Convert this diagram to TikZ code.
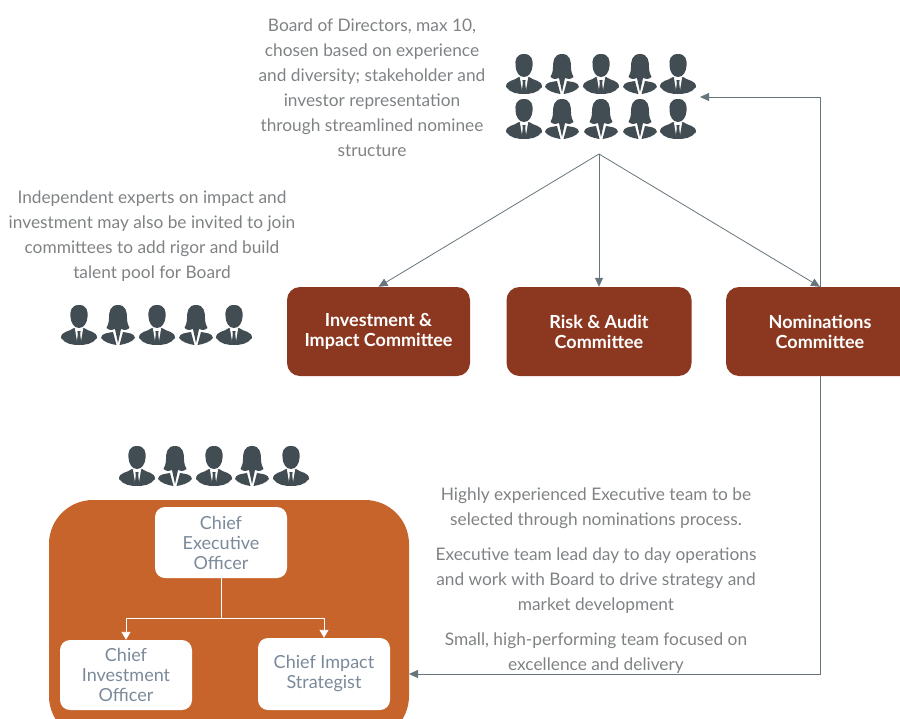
\documentclass[tikz,border=0pt]{standalone}
\usepackage{fontspec}
\setmainfont{Lato}
\usetikzlibrary{arrows.meta}
\definecolor{darkp}{HTML}{414D52}
\definecolor{brick}{HTML}{8C3820}
\definecolor{rust}{HTML}{C6642C}
\definecolor{txtg}{HTML}{7F8284}
\definecolor{txtb}{HTML}{7B8A9A}
\definecolor{linec}{HTML}{66757C}
\tikzset{
  x=1pt,y=-1pt,
  committee/.style={draw=none,fill=brick,rounded corners=13pt,text=white,align=center,font=\fontsize{18}{20}\selectfont\bfseries,inner sep=0pt},
  rolebox/.style={draw=none,fill=white,rounded corners=10pt,text=txtb,align=center,font=\fontsize{18}{20}\selectfont,inner sep=0pt,minimum width=132pt},
  note/.style={text=txtg,align=center,font=\fontsize{17.3}{25}\selectfont,inner sep=0pt},
  conn/.style={draw=linec,line width=0.8pt,-{Triangle[length=9pt,width=8pt,fill=linec]}},
  wconn/.style={draw=white,line width=0.9pt,-{Triangle[length=8pt,width=9pt,fill=white]}},
  man/.pic={
    \fill[darkp] (0,-20) .. controls (-8,-20) and (-9,-14) .. (-8.5,-8) .. controls (-8,-2) and (-5,3) .. (0,3) .. controls (5,3) and (8,-2) .. (8.5,-8) .. controls (9,-14) and (8,-20) .. (0,-20) -- cycle;
    \fill[darkp] (-5,3) .. controls (-10,7) and (-18,6) .. (-18,13) .. controls (-14,19) and (-6,20) .. (0,20) .. controls (6,20) and (14,19) .. (18,13) .. controls (18,6) and (10,7) .. (5,3) -- (0,6) -- cycle;
    \fill[white] (-4,4) -- (4,4) -- (2,16) -- (-2,16) -- cycle;
    \fill[darkp] (-1.6,6) -- (1.6,6) -- (1.2,9) -- (2,16) -- (0,18) -- (-2,16) -- (-1.2,9) -- cycle;
  },
  woman/.pic={
    \fill[darkp] (0,-20) .. controls (-8,-20) and (-9,-13) .. (-9,-7) .. controls (-9,-2) and (-10.5,1) .. (-11.5,3) .. controls (-8,6) and (-5,5) .. (-3,4) -- (0,18) -- (3,4) .. controls (5,5) and (8,6) .. (11.5,3) .. controls (10.5,1) and (9,-2) .. (9,-7) .. controls (9,-13) and (8,-20) .. (0,-20) -- cycle;
    \fill[darkp] (-5,7) .. controls (-10,8) and (-16.5,8) .. (-17,13) .. controls (-14,17) and (-8,19) .. (-1.5,20) -- cycle;
    \fill[darkp] (5,7) .. controls (10,8) and (16.5,8) .. (17,13) .. controls (14,17) and (8,19) .. (1.5,20) -- cycle;
  }
}
\begin{document}
\begin{tikzpicture}
\useasboundingbox (0,0) rectangle (900,718);
\clip (0,0) rectangle (900,718);
% Board
\foreach \px/\kind in {524/man,562/woman,601/man,640/woman,678/man} \pic at (\px,74) {\kind};
\foreach \px/\kind in {524/man,562/woman,601/woman,640/woman,678/man} \pic at (\px,119) {\kind};
% Experts
\foreach \px/\kind in {79/man,118/woman,157/man,196/woman,234/man} \pic at (\px,325) {\kind};
% Executives
\foreach \px/\kind in {137/man,175/woman,214/man,252/woman,291/man} \pic at (\px,466) {\kind};

\node[note] (boardtxt) at (372,88) {Board of Directors, max 10,\\chosen based on experience\\and diversity; stakeholder and\\investor representation\\through streamlined nominee\\structure};
\node[note] (experttxt) at (152,236) {Independent experts on impact and\\investment may also be invited to join\\committees to add rigor and build\\talent pool for Board};
\node[note,anchor=north] (exectxt) at (596,488) {Highly experienced Executive team to be\\selected through nominations process.};
\node[note,anchor=north] (exectxtb) at (596,548) {Executive team lead day to day operations\\and work with Board to drive strategy and\\market development};
\node[note,anchor=north] (exectxtc) at (596,633) {Small, high-performing team focused on\\excellence and delivery};

\node[committee,minimum width=183pt,minimum height=89pt] (inv) at (378.5,331.5) {Investment \&\\Impact Committee};
\node[committee,minimum width=185pt,minimum height=89pt] (risk) at (599,331.5) {Risk \& Audit\\Committee};
\node[committee,minimum width=188pt,minimum height=89pt] (nom) at (820,331.5) {Nominations\\Committee};

\coordinate (boardhub) at (599,154);
\coordinate (boardin) at (700,97);
\draw[conn] (boardhub) -- (inv.north);
\draw[conn] (boardhub) -- (risk.north);
\draw[conn] (boardhub) -- (nom.north);
\draw[conn] (nom.north) -- (820,97) -- (boardin);

\node[draw=none,fill=rust,rounded corners=44pt,minimum width=360pt,minimum height=240pt,inner sep=0pt] (execbox) at (229,620) {};
\coordinate (execin) at (409,674);
\draw[conn] (nom.south) -- (820,674) -- (execin);

\node[rolebox,minimum height=71pt] (ceo) at (221,542.5) {Chief\\Executive\\Officer};
\node[rolebox,minimum height=70pt] (cio) at (126,675) {Chief\\Investment\\Officer};
\node[rolebox,minimum height=72pt] (cis) at (324,674) {Chief Impact\\Strategist};
\coordinate (split) at (221,618);
\draw[draw=white,line width=0.9pt] (ceo.south) -- (split);
\draw[wconn] (split) -| (cio.north);
\draw[wconn] (split) -| (cis.north);
\end{tikzpicture}
\end{document}
